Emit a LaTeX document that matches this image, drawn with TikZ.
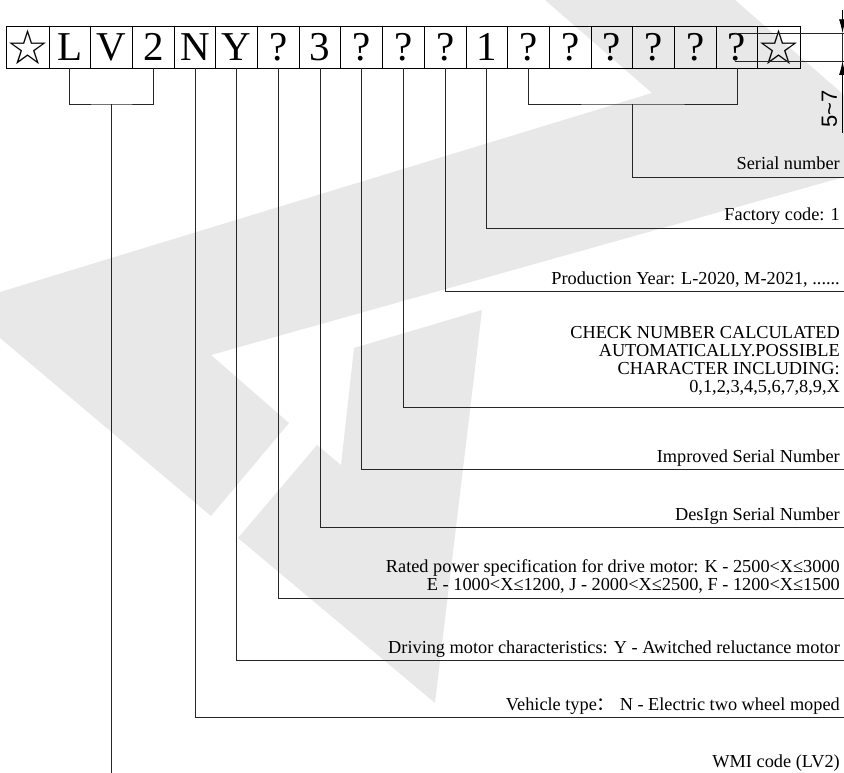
\documentclass[tikz,border=0pt]{standalone}
\usepackage{fontspec}
\setmainfont{Liberation Serif}
\newfontfamily\starfont{DejaVu Sans}
\newfontfamily\dimfont{Liberation Sans}
\newfontfamily\cjk{Noto Sans CJK SC}
\usetikzlibrary{arrows.meta}
\definecolor{wmgray}{RGB}{232,232,232}

\begin{document}
\begin{tikzpicture}[x=1pt,y=-1pt,
    cell/.style={draw,line width=0.9pt,minimum width=41.7pt,minimum height=42pt,
      inner sep=0pt,font=\fontsize{41}{41}\selectfont},
    lbl/.style={anchor=base east,inner sep=0pt,align=right,
      font=\fontsize{18.3}{18}\selectfont},
    lead/.style={line width=0.9pt,black!85},
    dimarrow/.style={-{Latex[length=14pt,width=7pt]},line width=0.9pt}]
  \useasboundingbox (0,0) rectangle (844,773);
  % --- watermark in the background ---
  \fill[wmgray] (0,338) -- (211,516) -- (289,423) -- (211,355) -- (844,177)
    -- (844,95) -- (735,0) -- (545,0) -- (652,93) -- (0,292) -- cycle;
  \fill[wmgray] (354,348) -- (482,310) -- (435,703) -- (238,538) -- (317,445)
    -- (341,465) -- cycle;
  % --- the 19 cells of the code ---
  \foreach \i/\sym in {0/{\starfont\fontsize{48}{48}\selectfont ☆},1/L,2/V,3/2,4/N,5/Y,
      6/?,7/3,8/?,9/?,10/?,11/1,12/?,13/?,14/?,15/?,16/?,17/?,
      18/{\starfont\fontsize{48}{48}\selectfont ☆}}
    \node[cell] (c\i) at ({7.3+41.7*(\i+0.5)},47) {\sym};
  % --- single leaders with their labels ---
  \foreach \i/\y/\b/\txt in {%
      11/228/221/{Factory code: 1},
      10/291/284/{Production Year: L-2020, M-2021, ......},
      9/407/392/{CHECK NUMBER CALCULATED\\AUTOMATICALLY.POSSIBLE\\CHARACTER INCLUDING:\\0,1,2,3,4,5,6,7,8,9,X},
      8/469.5/462.5/{Improved Serial Number},
      7/527.5/520.5/{DesIgn Serial Number},
      6/598/590.5/{Rated power specification for drive motor: K - 2500<X≤3000\\E - 1000<X≤1200, J - 2000<X≤2500, F - 1200<X≤1500},
      5/660.5/653.5/{Driving motor characteristics: Y - Awitched reluctance motor},
      4/717.5/710.5/{Vehicle type{\cjk ：} N - Electric two wheel moped}}{
    \coordinate (e\i) at (844,\y);
    \draw[lead] (c\i.south) |- (e\i);
    \node[lbl] (t\i) at (840,\b) {\txt};
  }
  % --- serial number bracket ---
  \coordinate (sb) at (632.6,104);
  \coordinate (esb) at (844,177);
  \draw[lead] (c12.south) |- (sb) -| (c17.south);
  \draw[lead] (sb) |- (esb);
  \node[lbl] (tsb) at (840,170) {Serial number};
  % --- WMI bracket ---
  \coordinate (wb) at (111.6,104);
  \coordinate (wend) at (111.6,773);
  \draw[lead] (c1.south) |- (wb) -| (c3.south);
  \draw[lead] (wb) -- (wend);
  \node[lbl] (twmi) at (840,767) {WMI code (LV2)};
  % --- height of the characters ---
  \coordinate (h1) at (735,33.3);
  \coordinate (h2) at (735,61);
  \coordinate (h1e) at (844,33.3);
  \coordinate (h2e) at (844,61);
  \coordinate (dtop) at (842.5,10);
  \coordinate (dbot) at (842.5,133);
  \coordinate (dt1) at (842.5,33.3);
  \coordinate (dt2) at (842.5,61);
  \draw[lead] (h1) -- (h1e);
  \draw[lead] (h2) -- (h2e);
  \draw[dimarrow] (dtop) -- (dt1);
  \draw[dimarrow] (dbot) -- (dt2);
  \draw[lead] (dt1) -- (dt2);
  \node[rotate=90,inner sep=0pt,font=\dimfont\fontsize{22}{22}\selectfont] (dimtxt)
    at (829.5,109) {5\textasciitilde 7};
\end{tikzpicture}
\end{document}
